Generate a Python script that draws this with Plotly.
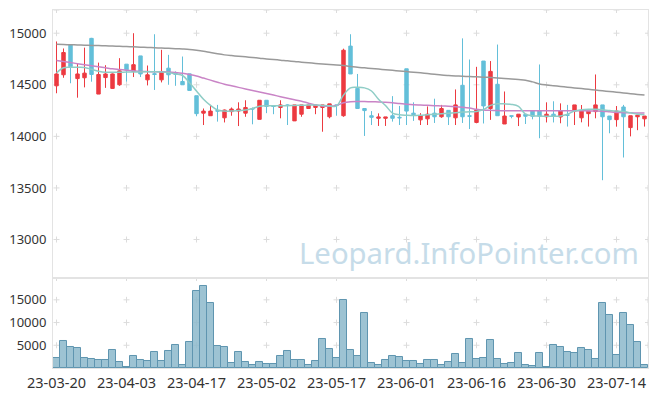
import plotly.graph_objects as go

dates = [
    "2023-03-20","2023-03-21","2023-03-22","2023-03-23","2023-03-24","2023-03-27","2023-03-28","2023-03-29","2023-03-30","2023-03-31",
    "2023-04-03","2023-04-04","2023-04-05","2023-04-06","2023-04-07","2023-04-10","2023-04-11","2023-04-12","2023-04-13","2023-04-14",
    "2023-04-17","2023-04-18","2023-04-19","2023-04-20","2023-04-21","2023-04-24","2023-04-25","2023-04-26","2023-04-27","2023-04-28",
    "2023-05-02","2023-05-03","2023-05-04","2023-05-08","2023-05-09","2023-05-10","2023-05-11","2023-05-12","2023-05-15","2023-05-16",
    "2023-05-17","2023-05-18","2023-05-19","2023-05-22","2023-05-23","2023-05-24","2023-05-25","2023-05-26","2023-05-30","2023-05-31",
    "2023-06-01","2023-06-02","2023-06-05","2023-06-07","2023-06-08","2023-06-09","2023-06-12","2023-06-13","2023-06-14","2023-06-15",
    "2023-06-16","2023-06-19","2023-06-20","2023-06-21","2023-06-22","2023-06-23","2023-06-26","2023-06-27","2023-06-28","2023-06-29",
    "2023-06-30","2023-07-03","2023-07-04","2023-07-05","2023-07-06","2023-07-07","2023-07-10","2023-07-11","2023-07-12","2023-07-13",
    "2023-07-14","2023-07-17","2023-07-18","2023-07-19","2023-07-20",
]

open_ = [14490,14597,14885,14560,14568,14950,14410,14570,14465,14500,
         14700,14630,14780,14548,14608,14548,14661,14610,14532,14606,
         14394,14225,14200,14250,14180,14240,14245,14225,14270,14165,
         14350,14295,14280,14305,14150,14215,14270,14280,14280,14190,
         14305,14200,14875,14465,14270,14200,14175,14175,14200,14185,
         14655,14225,14160,14170,14225,14190,14252,14180,14495,14200,
         14135,14730,14270,14505,14120,14200,14188,14214,14250,14250,
         14190,14215,14188,14210,14245,14180,14220,14240,14305,14197,
         14162,14285,14085,14190,14170]
high = [14920,14852,14890,14707,14860,14955,14715,14690,14610,14758,
        14700,15000,14780,14687,14990,14839,14790,14630,14774,14606,
        14394,14270,14305,14305,14260,14280,14330,14350,14280,14350,
        14350,14300,14350,14310,14305,14305,14305,14305,14305,14315,
        14305,14850,14990,14605,14270,14245,14223,14188,14390,14295,
        14655,14330,14225,14290,14365,14305,14252,14455,14950,14745,
        14674,14730,14730,14890,14435,14200,14215,14214,14250,14697,
        14330,14340,14320,14305,14305,14304,14245,14600,14305,14197,
        14294,14305,14200,14210,14197]
low = [14418,14568,14515,14375,14475,14530,14410,14470,14460,14490,
       14530,14575,14575,14494,14450,14523,14500,14490,14500,14445,
       14195,14110,14200,14143,14135,14200,14100,14190,14117,14165,
       14225,14215,14175,14110,14150,14190,14265,14215,14045,14175,
       14200,14190,14605,14270,14004,14110,14101,14101,14143,14110,
       14110,14150,14110,14110,14130,14180,14110,14110,14130,14071,
       14127,14125,14160,14200,14120,14175,14100,14120,14165,13982,
       14135,14135,14127,14095,14110,14136,14095,14175,13575,14030,
       14094,13795,14000,14060,14095]
close = [14605,14813,14675,14605,14613,14600,14600,14605,14605,14635,
         14645,14695,14605,14597,14600,14629,14597,14603,14500,14445,
         14220,14245,14245,14245,14255,14265,14265,14280,14265,14350,
         14290,14290,14305,14300,14305,14305,14305,14305,14305,14315,
         14300,14835,14605,14270,14250,14185,14188,14188,14175,14180,
         14245,14210,14200,14215,14190,14270,14190,14305,14190,14195,
         14255,14295,14630,14200,14197,14195,14215,14195,14195,14195,
         14215,14195,14245,14205,14305,14245,14245,14305,14190,14162,
         14246,14190,14200,14205,14197]

ma5 = [14615,14665,14670,14670,14668,14650,14632,14622,14622,14622,
       14623,14624,14625,14626,14626,14625,14620,14605,14590,14520,
       14440,14360,14300,14255,14245,14245,14250,14255,14270,14292,
       14296,14297,14297,14298,14300,14302,14303,14304,14300,14296,
       14294,14400,14470,14475,14470,14440,14360,14300,14225,14210,
       14205,14202,14205,14210,14214,14220,14225,14230,14235,14238,
       14242,14260,14300,14315,14315,14310,14290,14215,14200,14197,
       14195,14195,14198,14215,14245,14258,14263,14262,14258,14250,
       14245,14240,14228,14215,14210]
ma20 = [14735,14725,14715,14705,14695,14685,14675,14665,14655,14648,
        14641,14635,14630,14628,14627,14626,14625,14620,14612,14600,
        14585,14565,14545,14525,14505,14490,14475,14460,14445,14430,
        14415,14400,14385,14370,14355,14340,14322,14305,14295,14292,
        14300,14325,14335,14337,14337,14336,14334,14331,14326,14318,
        14312,14307,14304,14301,14298,14295,14292,14288,14282,14274,
        14262,14255,14252,14250,14249,14248,14248,14248,14248,14248,
        14248,14248,14248,14248,14248,14248,14247,14246,14244,14238,
        14232,14230,14228,14227,14226]
ma60 = [14892,14890,14888,14886,14884,14882,14880,14878,14876,14873,
        14870,14868,14865,14862,14859,14856,14853,14850,14847,14843,
        14835,14825,14812,14800,14790,14783,14777,14771,14764,14758,
        14751,14745,14739,14732,14726,14719,14713,14707,14702,14697,
        14692,14686,14678,14670,14664,14658,14652,14646,14640,14634,
        14628,14622,14616,14609,14602,14595,14590,14586,14583,14580,
        14577,14574,14571,14567,14562,14557,14551,14545,14528,14508,
        14498,14491,14484,14477,14470,14463,14456,14449,14442,14435,
        14428,14421,14414,14407,14400]

volume = [2100,6000,4700,4300,2300,2050,1850,1850,4050,1400,
          300,2700,1850,1600,3600,1600,3800,5150,750,5800,
          17050,17950,14200,4900,4700,1200,3600,1400,750,1400,
          950,950,2700,3800,1850,1850,750,1600,6450,4250,
          2300,15050,4050,2700,12000,1200,750,1850,2700,2500,
          1600,1600,950,1850,1850,750,1400,3150,1200,6450,
          2050,2300,6250,2050,950,1200,3400,750,500,3400,
          300,5150,4700,3600,3400,4500,4050,2050,14200,11750,
          2950,12200,9550,5800,750]

tick_dates = dates[::10]
tick_labels = [d[2:] for d in tick_dates]
price_ticks = [13000, 13500, 14000, 14500, 15000]
vol_ticks = [5000, 10000, 15000]

PRICE_RANGE = [12627, 15225]
VOL_RANGE = [0, 19800]
GRID = "#dcdcdc"
FRAME = "#e3e3e3"
RED = "#ec3a40"
BLUE = "#63bfd9"

fig = go.Figure()

fig.add_trace(go.Candlestick(
    x=dates, open=open_, high=high, low=low, close=close,
    increasing=dict(line=dict(color=RED, width=1), fillcolor=RED),
    decreasing=dict(line=dict(color=BLUE, width=1), fillcolor=BLUE),
    whiskerwidth=0, showlegend=False, xaxis="x", yaxis="y"))

fig.add_trace(go.Scatter(x=dates, y=ma60, mode="lines", line=dict(color="#9a9a9a", width=1.5, shape="spline"),
                         showlegend=False, xaxis="x", yaxis="y"))
fig.add_trace(go.Scatter(x=dates, y=ma20, mode="lines", line=dict(color="#c984c6", width=1.5, shape="spline"),
                         showlegend=False, xaxis="x", yaxis="y"))
fig.add_trace(go.Scatter(x=dates, y=ma5, mode="lines", line=dict(color="#8fcdc6", width=1.5, shape="spline"),
                         showlegend=False, xaxis="x", yaxis="y"))

fig.add_trace(go.Bar(x=dates, y=volume, marker=dict(color="rgba(140,184,203,0.85)",
                     line=dict(color="#5f95b0", width=1)), showlegend=False, xaxis="x2", yaxis="y2"))

# plus-sign grid marks (drawn as thin crosses at grid intersections)
shapes = []
def plus(xv, yv, yref, arms=3):
    shapes.append(dict(type="line", xref="x", yref=yref, xsizemode="pixel", xanchor=xv,
                       x0=-arms, x1=arms, y0=yv, y1=yv, line=dict(color=GRID, width=1), layer="below"))
    shapes.append(dict(type="line", xref="x", yref=yref, ysizemode="pixel", yanchor=yv,
                       x0=xv, x1=xv, y0=-arms, y1=arms, line=dict(color=GRID, width=1), layer="below"))

for i in range(0, len(dates), 10):
    for v in price_ticks + [PRICE_RANGE[1]]:
        plus(i, v, "y")
    for v in vol_ticks + [VOL_RANGE[1]]:
        plus(i, v, "y2")
for v in price_ticks:
    plus(len(dates) - 0.5, v, "y")
for v in vol_ticks:
    plus(len(dates) - 0.5, v, "y2")

split = 0.2514
font = dict(family="Noto Sans, Open Sans, sans-serif", size=13, color="#333333")
xcommon = dict(type="category", categoryorder="array", categoryarray=dates,
               range=[-0.5, len(dates) - 0.5], domain=[0, 1], showgrid=False, zeroline=False,
               showline=True, linecolor=FRAME, linewidth=1, mirror=True, automargin=False)
fig.update_layout(
    width=657, height=396,
    margin=dict(l=53, r=9, t=10, b=28),
    paper_bgcolor="white", plot_bgcolor="white",
    font=font, bargap=0, boxgap=0.3,
    xaxis=dict(**xcommon, anchor="y", showticklabels=False,
               rangeslider=dict(visible=False), ticks=""),
    yaxis=dict(domain=[split, 1], range=PRICE_RANGE, tickvals=price_ticks, tickformat="d",
               showgrid=False, zeroline=False, showline=True, linecolor=FRAME, linewidth=1, mirror=True,
               ticks="outside", ticklen=3, tickcolor="rgba(0,0,0,0)", anchor="x", automargin=False),
    xaxis2=dict(**xcommon, anchor="y2", matches="x", tickmode="array",
                tickvals=tick_dates, ticktext=tick_labels,
                ticks="outside", ticklen=2, tickcolor="rgba(0,0,0,0)",
                tickfont=dict(size=14.5)),
    yaxis2=dict(domain=[0, split], range=VOL_RANGE, tickvals=vol_ticks, tickformat="d",
                showgrid=False, zeroline=False, showline=True, linecolor=FRAME, linewidth=1, mirror=True,
                ticks="outside", ticklen=3, tickcolor="rgba(0,0,0,0)", anchor="x2", automargin=False),
    annotations=[dict(text="Leopard.InfoPointer.com", xref="paper", yref="paper",
                      x=0.41, y=0.321, xanchor="left", yanchor="middle", showarrow=False,
                      font=dict(family="Noto Sans, Open Sans, sans-serif", size=29.3, color="#c6dce9"))],
    shapes=shapes,
)

fig.write_html("out.html", config={"displayModeBar": False},
               post_script="document.body.style.margin='0';document.body.style.padding='0';document.body.style.overflow='hidden';")
